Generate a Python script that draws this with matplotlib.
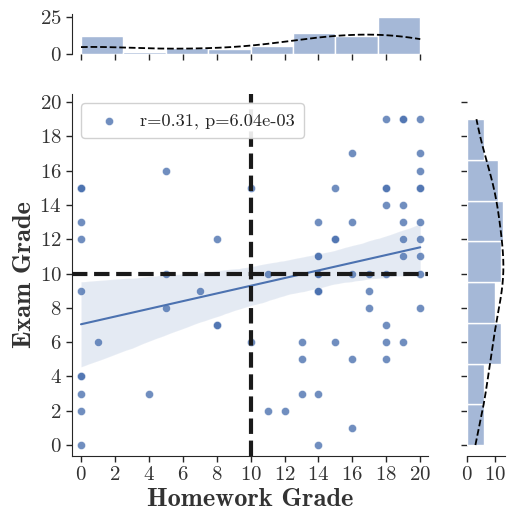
import matplotlib
matplotlib.use("Agg")
import numpy as np
import matplotlib.pyplot as plt
import seaborn as sns

# homework grade -> list of exam grades (repeats = overlapping students)
hw_0 = [15, 15, 15, 13, 12, 9, 4, 4, 3, 2, 0]
hw_1 = [6]
hw_4 = [3]
hw_5 = [16, 10, 8]
hw_7 = [9]
hw_8 = [12, 7, 7]
hw_10 = [15, 6]
hw_11 = [10, 2]
hw_12 = [2]
hw_13 = [6, 5, 3]
hw_14 = [13, 11, 11, 10, 10, 9, 9, 9, 9, 3, 0]
hw_15 = [15, 12, 12, 6]
hw_16 = [17, 13, 10, 5, 1]
hw_17 = [10, 9, 8]
hw_18 = [19, 15, 15, 14, 10, 7, 6, 5]
hw_19 = [19, 19, 14, 13, 12, 11, 6]
hw_20 = [19, 17, 16, 15, 15, 13, 12, 11, 10, 8]

groups = {0: hw_0, 1: hw_1, 4: hw_4, 5: hw_5, 7: hw_7, 8: hw_8, 10: hw_10,
          11: hw_11, 12: hw_12, 13: hw_13, 14: hw_14, 15: hw_15, 16: hw_16,
          17: hw_17, 18: hw_18, 19: hw_19, 20: hw_20}
homework = np.array([k for k, v in groups.items() for _ in v], dtype=float)
exam = np.array([e for v in groups.values() for e in v], dtype=float)

stat_label = "r=0.31, p=6.04e-03"
grade_ticks = list(range(0, 21, 2))

sns.set_style("ticks")
plt.rcParams["font.family"] = ["cmr10", "DejaVu Serif"]
plt.rcParams["axes.formatter.use_mathtext"] = True
plt.rcParams["axes.unicode_minus"] = False

blue = "#4C72B0"
txt = "#333333"

fig = plt.figure(figsize=(5.07, 5.17), dpi=100)
ax = fig.add_axes([0.142, 0.1186, 0.702, 0.699])
ax_top = fig.add_axes([0.142, 0.8961, 0.702, 0.0768], sharex=ax)
ax_right = fig.add_axes([0.9205, 0.1186, 0.0761, 0.699], sharey=ax)

# joint
ax.scatter(homework, exam, s=34, color=blue, alpha=0.8, edgecolor="white",
           linewidth=0.4, label=stat_label, zorder=2)
sns.regplot(x=homework, y=exam, ax=ax, scatter=False, color=blue, seed=0,
            line_kws=dict(lw=1.5))
ax.axvline(10, color="#1a1a1a", ls="--", lw=3, zorder=4)
ax.axhline(10, color="#1a1a1a", ls="--", lw=3, zorder=4)
ax.set_xlim(-0.53, 20.45)
ax.set_ylim(-0.62, 20.45)
ax.set_xticks(grade_ticks)
ax.set_yticks(grade_ticks)
ax.set_xlabel("Homework Grade", fontfamily="cmb10", fontsize=19, color=txt,
              labelpad=3)
ax.set_ylabel("Exam Grade", fontfamily="cmb10", fontsize=19, color=txt,
              labelpad=2)
ax.tick_params(labelsize=15, length=4, width=1, colors="#262626", labelcolor=txt)
leg = ax.legend(loc="upper left", fontsize=13.2, scatterpoints=1,
                handletextpad=0.7, borderpad=0.5, framealpha=0.9)
leg.get_frame().set_edgecolor("#cccccc")
sns.despine(ax=ax)

# marginals
sns.histplot(x=homework, ax=ax_top, bins=8, kde=True, color=blue, alpha=0.5,
             edgecolor="white", linewidth=1)
sns.histplot(y=exam, ax=ax_right, bins=8, kde=True, color=blue, alpha=0.5,
             edgecolor="white", linewidth=1)
for a in (ax_top, ax_right):
    ln = a.lines[-1]
    ln.set_color("black")
    ln.set_linestyle("--")
    ln.set_linewidth(1.3)
    a.set_xlabel("")
    a.set_ylabel("")
    a.tick_params(labelsize=15, length=4, width=1, colors="#262626", labelcolor=txt)

ax_top.set_yticks([0, 25])
ax_top.set_ylim(0, 27.3)
ax_top.tick_params(axis="x", labelbottom=False)
sns.despine(ax=ax_top, bottom=True)

ax_right.set_xticks([0, 10])
ax_right.set_xlim(0, 13.65)
ax_right.tick_params(axis="y", labelleft=False)
sns.despine(ax=ax_right, left=True)

fig.savefig("out.png", dpi=100)
